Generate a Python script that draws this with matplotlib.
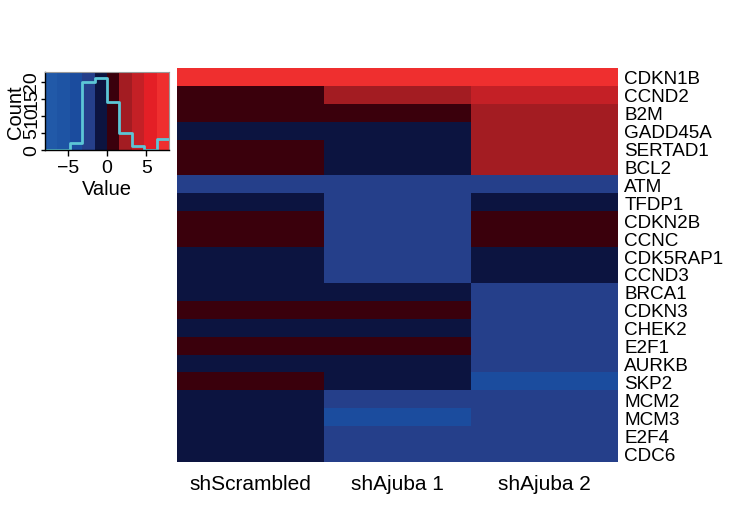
import numpy as np
import matplotlib
matplotlib.use("Agg")
import matplotlib.pyplot as plt
from matplotlib.colors import ListedColormap, BoundaryNorm

# Cell-cycle gene expression (row-scaled) per knock-down condition
genes = ["CDKN1B", "CCND2", "B2M", "GADD45A", "SERTAD1", "BCL2", "ATM",
         "TFDP1", "CDKN2B", "CCNC", "CDK5RAP1", "CCND3", "BRCA1", "CDKN3",
         "CHEK2", "E2F1", "AURKB", "SKP2", "MCM2", "MCM3", "E2F4", "CDC6"]
samples = ["shScrambled", "shAjuba 1", "shAjuba 2"]

sh_scrambled = [7.4, 0.9, 1.1, -0.5, 0.4, 1.3, -2.3, -0.6, 0.8, 0.5, -1.4,
                -0.2, -0.9, 0.2, -1.2, 1.4, -0.3, 0.6, -1.0, -0.7, -1.5, -0.4]
sh_ajuba1 = [7.1, 2.6, 0.6, -1.1, -0.9, -0.3, -2.8, -2.0, -2.5, -1.8, -2.2,
             -2.9, -0.4, 1.2, -0.8, 0.7, -1.3, -0.6, -2.2, -4.1, -1.7, -2.4]
sh_ajuba2 = [6.8, 4.1, 2.2, 2.9, 2.0, 2.5, -1.9, -1.2, 1.0, 0.3, -0.7,
             -1.0, -2.6, -2.1, -2.4, -2.7, -1.8, -3.6, -2.0, -2.3, -2.9, -1.7]

# Colour key: 10 equal-width bins
breaks = np.linspace(-7.9, 7.9, 11)
key_colors = ["#2159A8", "#1E54A4", "#1B4C9E", "#253F8A", "#0C1440",
              "#3A000C", "#A31C22", "#C42026", "#E41F26", "#EF2F2F"]
value_ticks = [-5, 0, 5]
count_ticks = [0, 5, 10, 15, 20]

plt.rcParams['font.family'] = ['Liberation Sans', 'DejaVu Sans']

W, H = 733, 506
fig = plt.figure(figsize=(W / 100, H / 100), dpi=100)

data = np.column_stack([sh_scrambled, sh_ajuba1, sh_ajuba2])
cmap = ListedColormap(key_colors)
norm = BoundaryNorm(breaks, cmap.N)

# Heatmap
ax = fig.add_axes([177 / W, (H - 463) / H, 441 / W, 394 / H])
ax.pcolormesh(np.arange(len(samples) + 1), np.arange(len(genes) + 1), data,
              cmap=cmap, norm=norm, edgecolors='none')
ax.set_xlim(0, len(samples))
ax.set_ylim(len(genes), 0)
ax.set_xticks(np.arange(len(samples)) + 0.5, samples, fontsize=15)
ax.set_yticks(np.arange(len(genes)) + 0.5, genes, fontsize=13.6)
ax.yaxis.tick_right()
ax.tick_params(axis='y', length=0, pad=4.5)
ax.tick_params(axis='x', length=0, pad=8.5)
for s in ax.spines.values():
    s.set_visible(False)

# Colour key with histogram
kax = fig.add_axes([45 / W, (H - 150.7) / H, 124 / W, 78 / H])
kax.pcolormesh(breaks, [0, 30], [0.5 * (breaks[:-1] + breaks[1:])],
               cmap=cmap, norm=norm, edgecolors='none')
counts, _ = np.histogram(data.ravel(), breaks)
kax.step(breaks, np.append(counts, counts[-1]), where='post',
         color='#5CC6D6', lw=2)
kax.set_xlim(breaks[0], breaks[-1])
kax.set_ylim(0, 22.9)
kax.set_xticks(value_ticks, [str(v).replace('-', '\u2212') for v in value_ticks],
               fontsize=14)
kax.set_yticks(count_ticks, [str(v) for v in count_ticks], fontsize=14,
               rotation=90, va='center')
kax.tick_params(axis='x', length=4, width=1, pad=3)
kax.tick_params(axis='y', length=3, width=1, pad=0.5)
kax.set_xlabel("Value", fontsize=14.5, labelpad=1.5)
kax.set_ylabel("Count", fontsize=14.5, labelpad=-1)
for side in ("top", "right"):
    kax.spines[side].set_color("#9A9A9A")
    kax.spines[side].set_linewidth(0.8)
for side in ("left", "bottom"):
    kax.spines[side].set_color("black")
    kax.spines[side].set_linewidth(1)

fig.savefig("out.png", dpi=100, facecolor="white")
